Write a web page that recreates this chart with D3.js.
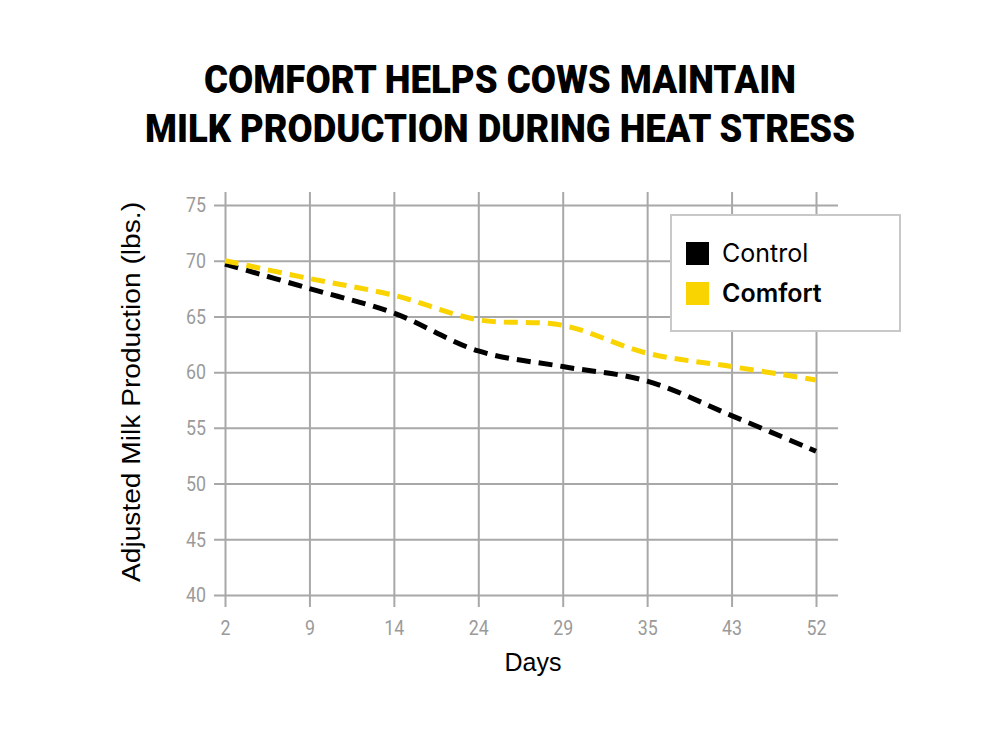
<!DOCTYPE html>
<html>
<head>
<meta charset="utf-8">
<script src="https://cdn.jsdelivr.net/npm/d3@7"></script>
<style>
  body { margin: 0; background: #fff; }
</style>
</head>
<body>
<div id="chart"></div>
<script>
// data
const days = ['2', '9', '14', '24', '29', '35', '43', '52']
const control = [69.7, 67.5, 65.3, 61.9, 60.5, 59.2, 56.1, 52.9]
const comfort = [70.0, 68.4, 66.9, 64.7, 64.2, 61.7, 60.5, 59.3]
const yTicks = [40, 45, 50, 55, 60, 65, 70, 75]
const seriesNames = ['Control', 'Comfort']
const seriesColors = ['#000000', '#fad400']

const width = 1000
const height = 750

const svg = d3
  .select('#chart')
  .append('svg')
  .attr('width', width)
  .attr('height', height)

/// scales ////
const xScale = d3.scalePoint().domain(days).range([225, 816])
const yScale = d3.scaleLinear().domain([40, 75]).range([595, 205])

const gridColor = '#a8a8a8'
const tickColor = '#9a9a9a'
const tickFont = '"Roboto", sans-serif'

// horizontal grid + y labels
const yAxis = svg
  .append('g')
  .attr('class', 'axis y-axis')
  .attr('transform', 'translate(838,0)')
  .call(
    d3
      .axisLeft(yScale)
      .tickValues(yTicks)
      .tickSize(838 - 214)
      .tickPadding(8)
  )
yAxis.select('.domain').remove()
yAxis.selectAll('line').attr('stroke', gridColor).attr('stroke-width', 2)
yAxis
  .selectAll('text')
  .attr('fill', tickColor)
  .attr('font-family', tickFont)
  .attr('font-size', 21)
  .attr('textLength', d => String(d).length * 10)
  .attr('lengthAdjust', 'spacingAndGlyphs')

// vertical grid + x labels
const xAxis = svg
  .append('g')
  .attr('class', 'axis x-axis')
  .attr('transform', 'translate(0,607)')
  .call(
    d3
      .axisBottom(xScale)
      .tickSize(-(607 - 192))
      .tickPadding(13)
  )
xAxis.select('.domain').remove()
xAxis.selectAll('line').attr('stroke', gridColor).attr('stroke-width', 2)
xAxis
  .selectAll('text')
  .attr('fill', tickColor)
  .attr('font-family', tickFont)
  .attr('font-size', 21)
  .attr('textLength', d => String(d).length * 10)
  .attr('lengthAdjust', 'spacingAndGlyphs')

/// lines ////
const line = d3
  .line()
  .x((d, i) => xScale(days[i]))
  .y(d => yScale(d))
  .curve(d3.curveCatmullRom.alpha(0.5))

const seriesData = [control, comfort]
svg
  .selectAll('.seriesLine')
  .data(seriesData)
  .enter()
  .append('path')
  .attr('class', 'seriesLine')
  .attr('d', d => line(d))
  .attr('fill', 'none')
  .attr('stroke', (d, i) => seriesColors[i])
  .attr('stroke-width', 5)
  .attr('stroke-dasharray', '14 8')

/// legend ////
const legend = svg.append('g').attr('class', 'legend')
legend
  .append('rect')
  .attr('x', 671)
  .attr('y', 215)
  .attr('width', 229)
  .attr('height', 116)
  .attr('fill', '#fff')
  .attr('stroke', '#c8c8c8')
  .attr('stroke-width', 2)

const legendItems = legend
  .selectAll('.legendItem')
  .data(seriesNames)
  .enter()
  .append('g')
  .attr('class', 'legendItem')
  .attr('transform', (d, i) => `translate(686,${242 + i * 40})`)

legendItems
  .append('rect')
  .attr('width', 23)
  .attr('height', 23)
  .attr('fill', (d, i) => seriesColors[i])

legendItems
  .append('text')
  .attr('x', 36)
  .attr('y', 20)
  .attr('font-family', 'Inter, "Open Sans", sans-serif')
  .attr('font-size', 25)
  .attr('font-weight', (d, i) => (i === 1 ? 600 : 400))
  .attr('fill', '#000')
  .text(d => d)

/// axis titles ////
svg
  .append('text')
  .attr('x', 533)
  .attr('y', 671)
  .attr('text-anchor', 'middle')
  .attr('font-family', '"Liberation Sans", Arial, sans-serif')
  .attr('font-size', 25)
  .attr('fill', '#000')
  .text('Days')

svg
  .append('text')
  .attr('transform', 'translate(140,392) rotate(-90)')
  .attr('text-anchor', 'middle')
  .attr('font-family', '"Liberation Sans", Arial, sans-serif')
  .attr('font-size', 25)
  .attr('fill', '#000')
  .attr('textLength', 380)
  .attr('lengthAdjust', 'spacingAndGlyphs')
  .text('Adjusted Milk Production (lbs.)')

/// headline ////
const titleLines = [
  { text: 'COMFORT HELPS COWS MAINTAIN', y: 93, len: 592 },
  { text: 'MILK PRODUCTION DURING HEAT STRESS', y: 142, len: 710 }
]
svg
  .selectAll('.headline')
  .data(titleLines)
  .enter()
  .append('text')
  .attr('class', 'headline')
  .attr('x', 500)
  .attr('y', d => d.y)
  .attr('text-anchor', 'middle')
  .attr('font-family', 'Roboto, Inter, sans-serif')
  .attr('font-weight', 900)
  .attr('font-size', 39)
  .attr('textLength', d => d.len)
  .attr('lengthAdjust', 'spacingAndGlyphs')
  .attr('fill', '#000')
  .text(d => d.text)
</script>
</body>
</html>
